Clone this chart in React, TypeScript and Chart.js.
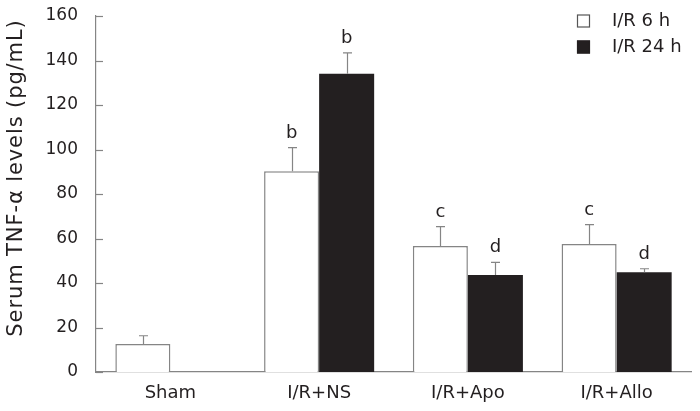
import React, { useEffect, useRef } from "react";
import { Chart, registerables } from "chart.js";

Chart.register(...registerables);

const categories = ["Sham", "I/R+NS", "I/R+Apo", "I/R+Allo"];
const ir6hValues = [12.6, 90.2, 56.6, 57.5];
const ir6hErrors = [3.7, 10.6, 8.7, 8.7];
const ir6hMarks = ["", "b", "c", "c"];
const ir24hValues: (number | null)[] = [null, 134, 43.6, 44.8];
const ir24hErrors: (number | null)[] = [null, 9.4, 5.7, 1.6];
const ir24hMarks = ["", "b", "d", "d"];
const seriesNames = ["I/R 6 h", "I/R 24 h"];
const yTickValues = [0, 20, 40, 60, 80, 100, 120, 140, 160];
const yTitle = "Serum TNF-\u03b1 levels (pg/mL)";

const FONT = "'DejaVu Sans', Verdana, sans-serif";
const TEXT = "#231f20";
const GREY = "#858585";
const DARK = "#231f20";

const errorsBySeries = [ir6hErrors, ir24hErrors];
const marksBySeries = [ir6hMarks, ir24hMarks];

const decorPlugin = {
  id: "decor",
  afterDatasetsDraw(chart: any) {
    const ctx = chart.ctx;
    const yScale = chart.scales.y;
    const area = chart.chartArea;
    ctx.save();
    // inward y ticks
    ctx.strokeStyle = GREY;
    ctx.lineWidth = 1.2;
    yTickValues.forEach((v) => {
      const py = Math.round(yScale.getPixelForValue(v)) + 0.5;
      ctx.beginPath();
      ctx.moveTo(area.left, py);
      ctx.lineTo(area.left + 7, py);
      ctx.stroke();
    });
    // error bars + significance letters
    chart.data.datasets.forEach((ds: any, i: number) => {
      const meta = chart.getDatasetMeta(i);
      meta.data.forEach((bar: any, j: number) => {
        const v = ds.data[j];
        const e = errorsBySeries[i][j];
        if (v == null || e == null) return;
        const top = yScale.getPixelForValue(v + e);
        const x = Math.round(bar.x) + 0.5;
        ctx.strokeStyle = GREY;
        ctx.lineWidth = 1.2;
        ctx.beginPath();
        ctx.moveTo(x, bar.y);
        ctx.lineTo(x, top);
        ctx.moveTo(x - 4.5, top);
        ctx.lineTo(x + 4.5, top);
        ctx.stroke();
        const mark = marksBySeries[i][j];
        if (mark) {
          ctx.fillStyle = TEXT;
          ctx.font = `18px ${FONT}`;
          ctx.textAlign = "center";
          ctx.textBaseline = "alphabetic";
          ctx.fillText(mark, bar.x, top - 10);
        }
      });
    });
    // y-axis title
    ctx.save();
    ctx.translate(17, 178);
    ctx.rotate(-Math.PI / 2);
    ctx.fillStyle = TEXT;
    ctx.font = `21px ${FONT}`;
    try {
      (ctx as any).letterSpacing = "0.9px";
    } catch (err) {}
    ctx.textAlign = "center";
    ctx.textBaseline = "middle";
    ctx.fillText(yTitle, 0, 0);
    ctx.restore();
    // legend
    const fills = ["#ffffff", DARK];
    seriesNames.forEach((name, i) => {
      const cy = 21 + i * 26;
      ctx.fillStyle = fills[i];
      ctx.fillRect(577, cy - 6.5, 13, 13);
      ctx.strokeStyle = i === 0 ? "#555555" : DARK;
      ctx.lineWidth = 1.2;
      ctx.strokeRect(577.5, cy - 6, 12, 12);
      ctx.fillStyle = TEXT;
      ctx.font = `18px ${FONT}`;
      ctx.textAlign = "left";
      ctx.textBaseline = "middle";
      ctx.fillText(name, 612, cy);
    });
    ctx.restore();
  },
};

export default function App() {
  const canvasRef = useRef<HTMLCanvasElement | null>(null);

  useEffect(() => {
    document.body.style.margin = "0";
    const canvas = canvasRef.current;
    if (!canvas) return;
    const chart = new Chart(canvas, {
      type: "bar",
      data: {
        labels: categories,
        datasets: [
          {
            label: seriesNames[0],
            data: ir6hValues,
            backgroundColor: "#ffffff",
            borderColor: GREY,
            borderWidth: { top: 1.5, left: 1.5, right: 1.5, bottom: 0 },
            borderSkipped: "bottom",
          },
          {
            label: seriesNames[1],
            data: ir24hValues,
            backgroundColor: DARK,
            borderColor: DARK,
            borderWidth: 0,
          },
        ],
      },
      options: {
        responsive: false,
        animation: false,
        devicePixelRatio: 1,
        layout: { padding: { left: 0, right: 9, top: 16, bottom: 0 } },
        datasets: {
          bar: { categoryPercentage: 0.74, barPercentage: 1 },
        },
        plugins: {
          legend: { display: false },
          tooltip: { enabled: false },
        },
        scales: {
          x: {
            grid: { display: false, drawTicks: true, tickLength: 11 },
            border: { display: true, color: GREY, width: 1.2 },
            ticks: {
              color: TEXT,
              font: { family: FONT, size: 18 },
              padding: 0,
              maxRotation: 0,
            },
            afterFit: (scale: any) => {
              scale.height = 39;
            },
          },
          y: {
            min: 0,
            max: 160,
            grid: { display: false, drawTicks: true, tickLength: 18 },
            border: { display: true, color: GREY, width: 1.2 },
            ticks: {
              stepSize: 20,
              color: TEXT,
              font: { family: FONT, size: 17 },
              padding: 0,
            },
            afterFit: (scale: any) => {
              scale.width = 96;
            },
          },
        },
      },
      plugins: [decorPlugin],
    });
    return () => chart.destroy();
  }, []);

  return (
    <div style={{ width: 700, height: 411, background: "#fff" }}>
      <canvas ref={canvasRef} width={700} height={411} />
    </div>
  );
}
